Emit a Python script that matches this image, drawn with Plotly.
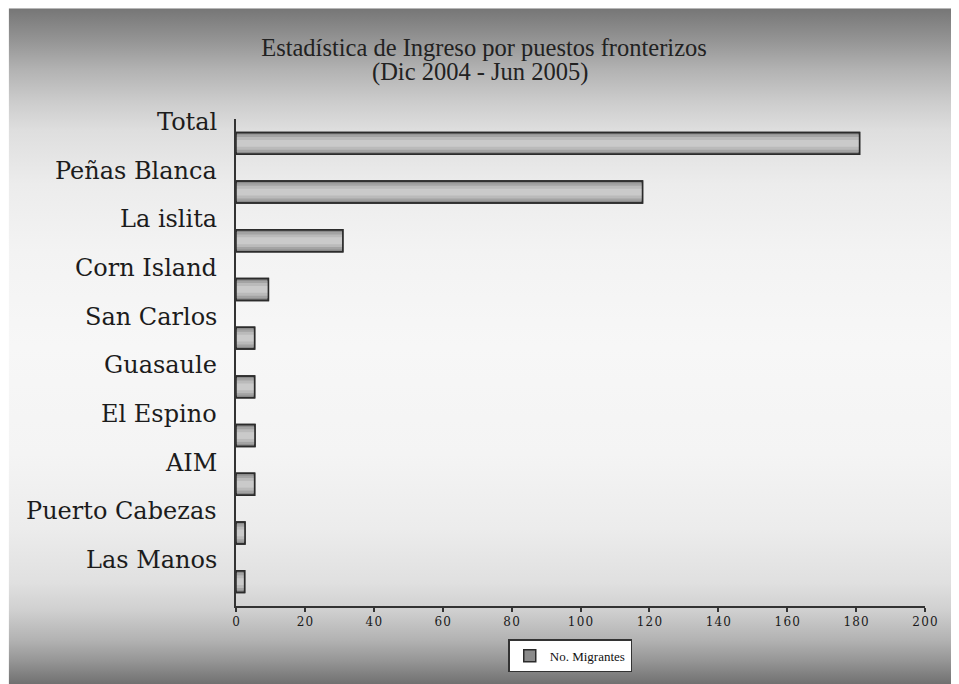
import plotly.graph_objects as go
import urllib.parse

# ---- data ----
categories = ["Total", "Peñas Blanca", "La islita", "Corn Island", "San Carlos",
              "Guasaule", "El Espino", "AIM", "Puerto Cabezas", "Las Manos"]
migrantes = [181, 118, 31, 9.4, 5.4, 5.4, 5.5, 5.4, 2.6, 2.5]
series_name = "No. Migrantes"
x_ticks = [0, 20, 40, 60, 80, 100, 120, 140, 160, 180, 200]
title_lines = ["Estadística de Ingreso por puestos fronterizos", "(Dic 2004 - Jun 2005)"]

# ---- style (figure is placed at page offset 8,8 by the html body margin) ----
W, H = 951, 676
ML, MR, MT, MB = 227.5, 34, 110.7, 78.3
PW, PH = W - ML - MR, H - MT - MB
SERIF = "DejaVu Serif"
TITLE_FONT = "Liberation Serif"

bg_stops = [(0.0, 118), (0.05, 150), (0.09, 178), (0.14, 205), (0.18, 222),
            (0.26, 236), (0.36, 243), (0.5, 247), (0.66, 244), (0.77, 236),
            (0.85, 224), (0.89, 208), (0.935, 178), (0.965, 150), (1.0, 112)]
stops_svg = "".join(
    f'<stop offset="{o}" stop-color="rgb({g},{g},{g})"/>' for o, g in bg_stops)
svg = ('<svg xmlns="http://www.w3.org/2000/svg" width="100" height="100" '
       'preserveAspectRatio="none" viewBox="0 0 100 100">'
       '<defs><linearGradient id="g" x1="0" y1="0" x2="0" y2="1">' + stops_svg +
       '</linearGradient></defs><rect width="100" height="100" fill="url(#g)"/></svg>')
bg_uri = "data:image/svg+xml;charset=utf-8," + urllib.parse.quote(svg)


def px_to_paper_x(px):
    return (px - ML) / PW


def px_to_paper_y(py):
    return (H - MB - py) / PH


fig = go.Figure()

bar_w = 0.45
layers = [
    dict(width=bar_w, color="#8a8a8a", legend=True),
    dict(width=0.36, color="#a3a3a3", legend=False),
    dict(width=0.26, color="#bababa", legend=False),
    dict(width=0.14, color="#cacaca", legend=False),
]
for ly in layers:
    fig.add_trace(go.Bar(
        x=migrantes, y=categories, orientation="h", name=series_name,
        width=ly["width"], showlegend=ly["legend"],
        marker=dict(color=ly["color"],
                    line=dict(color="#2b2b2b", width=1.5 if ly["legend"] else 0)),
        hoverinfo="x+y" if ly["legend"] else "skip",
    ))
fig.add_trace(go.Bar(
    x=migrantes, y=categories, orientation="h", width=bar_w, showlegend=False,
    marker=dict(color="rgba(0,0,0,0)", line=dict(color="#2b2b2b", width=1.5)),
    hoverinfo="skip",
))

annotations = []
for c in categories:
    annotations.append(dict(
        x=0, xref="paper", y=c, yref="y", text=c, showarrow=False,
        xanchor="right", yanchor="middle", xshift=-17, yshift=21.5,
        font=dict(family=SERIF, size=24, color="#1c1c1c"),
    ))
# second title line
annotations.append(dict(
    x=px_to_paper_x(472), xref="paper", y=px_to_paper_y(64), yref="paper",
    text=title_lines[1], showarrow=False, xanchor="center", yanchor="middle",
    font=dict(family=TITLE_FONT, size=24.5, color="#222222"),
))

tick_text = ["\u200a".join(str(v)) for v in x_ticks]

fig.update_layout(
    width=W, height=H,
    margin=dict(l=ML, r=MR, t=MT, b=MB, autoexpand=False),
    paper_bgcolor="white", plot_bgcolor="rgba(0,0,0,0)",
    barmode="overlay",
    title=dict(text=title_lines[0], x=476 / W, xref="container", xanchor="center",
               y=1 - 39 / H, yref="container", yanchor="middle",
               font=dict(family=TITLE_FONT, size=24.5, color="#222222")),
    xaxis=dict(range=[0, 200], tickvals=x_ticks, ticktext=tick_text, ticks="outside",
               ticklen=4, tickwidth=1.5, tickcolor="#333333", showline=True,
               linecolor="#333333", linewidth=1.5, showgrid=False, zeroline=False,
               tickfont=dict(family=SERIF, size=12, color="#1a1a1a")),
    yaxis=dict(range=[len(categories) - 0.5, -0.5], showticklabels=False, ticks="",
               showline=True, linecolor="#333333", linewidth=1.5, showgrid=False,
               zeroline=False),
    legend=dict(orientation="h", x=px_to_paper_x(562), xanchor="center",
                y=px_to_paper_y(631), yanchor="top", bgcolor="white",
                bordercolor="#333333", borderwidth=1.5,
                font=dict(family=TITLE_FONT, size=13, color="#111111"),
                itemwidth=30),
    annotations=annotations,
    images=[dict(source=bg_uri, xref="paper", yref="paper",
                 x=px_to_paper_x(0), y=px_to_paper_y(0),
                 sizex=W / PW, sizey=H / PH,
                 xanchor="left", yanchor="top", sizing="stretch", layer="below")],
    showlegend=True,
)

fig.write_html("out.html")
